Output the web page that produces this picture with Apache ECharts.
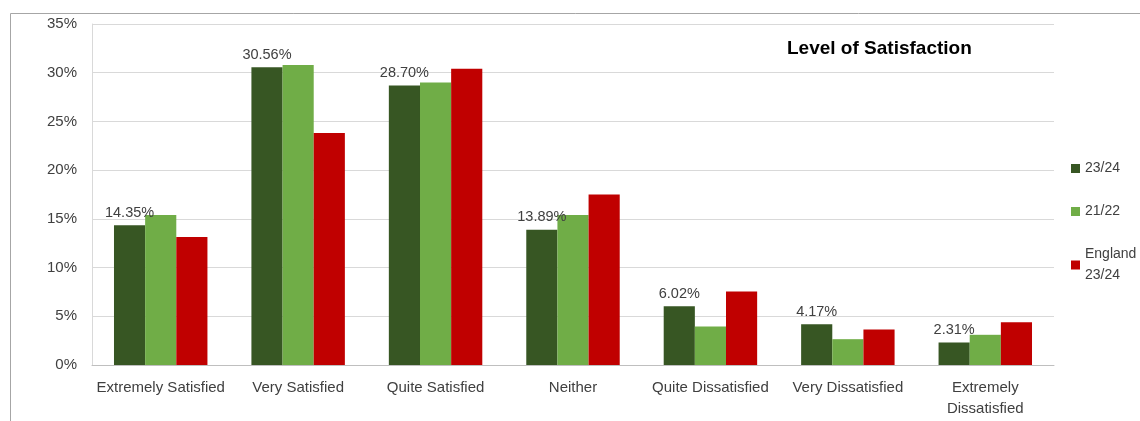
<!DOCTYPE html>
<html>
<head>
<meta charset="utf-8">
<script src="https://cdn.jsdelivr.net/npm/echarts@6/dist/echarts.min.js"></script>
<style>
  html, body { margin: 0; padding: 0; background: #fff; }
  #chart { width: 1140px; height: 421px; }
</style>
</head>
<body>
<div id="chart"></div>
<script>
// Satisfaction levels, shares in percent
const categories = ['Extremely Satisfied', 'Very Satisfied', 'Quite Satisfied', 'Neither',
  'Quite Dissatisfied', 'Very Dissatisfied', 'Extremely Dissatisfied'];
const seriesNames = ['23/24', '21/22', 'England 23/24'];
const values2324 = [14.35, 30.56, 28.70, 13.89, 6.02, 4.17, 2.31];
const values2122 = [15.4, 30.8, 29.0, 15.4, 3.95, 2.65, 3.1];
const valuesEngland = [13.15, 23.8, 30.4, 17.5, 7.55, 3.65, 4.4];
const yTicks = [0, 5, 10, 15, 20, 25, 30, 35];

const colors = ['#375623', '#70AD47', '#C00000'];
const font = '"Liberation Sans", "DejaVu Sans", sans-serif';
const textColor = '#404040';

const chart = echarts.init(document.getElementById('chart'), null, { renderer: 'canvas' });

function barSeries(name, data, color, withLabel) {
  return {
    name: name,
    type: 'bar',
    data: data,
    barGap: '0%',
    barCategoryGap: '32%',
    itemStyle: { color: color },
    label: withLabel ? {
      show: true,
      position: 'top',
      distance: 5,
      color: textColor,
      fontFamily: font,
      fontSize: 14.5,
      formatter: p => p.value.toFixed(2) + '%'
    } : { show: false },
    emphasis: { disabled: true }
  };
}

chart.setOption({
  animation: false,
  backgroundColor: '#fff',
  title: {
    text: 'Level of Satisfaction',
    left: 782,
    top: 34,
    textStyle: { fontFamily: font, fontSize: 19, fontWeight: 'bold', color: '#000' }
  },
  legend: {
    orient: 'vertical',
    left: 1066,
    top: 153,
    itemWidth: 9,
    itemHeight: 9,
    itemGap: 22,
    icon: 'rect',
    data: seriesNames,
    formatter: n => n.replace(' ', '\n'),
    textStyle: { fontFamily: font, fontSize: 14, color: textColor, lineHeight: 21 }
  },
  graphic: [{
    type: 'rect',
    shape: { x: 10.5, y: 13.5, width: 1200, height: 500 },
    style: { fill: null, stroke: '#a6a6a6', lineWidth: 1 },
    silent: true
  }],
  grid: { left: 92, right: 86, top: 24, bottom: 56, containLabel: false },
  xAxis: {
    type: 'category',
    data: categories,
    axisLine: { lineStyle: { color: '#bfbfbf' } },
    axisTick: { show: false },
    axisLabel: {
      interval: 0,
      margin: 12,
      color: textColor,
      fontFamily: font,
      fontSize: 15,
      lineHeight: 21,
      formatter: v => v === 'Extremely Dissatisfied' ? 'Extremely\nDissatisfied' : v
    }
  },
  yAxis: {
    type: 'value',
    min: yTicks[0],
    max: yTicks[yTicks.length - 1],
    interval: 5,
    axisLine: { show: true, lineStyle: { color: '#d9d9d9' } },
    axisTick: { show: false },
    splitLine: { lineStyle: { color: '#d9d9d9' } },
    axisLabel: {
      margin: 15,
      color: textColor,
      fontFamily: font,
      fontSize: 15,
      formatter: v => v + '%'
    }
  },
  series: [
    barSeries(seriesNames[0], values2324, colors[0], true),
    barSeries(seriesNames[1], values2122, colors[1], false),
    barSeries(seriesNames[2], valuesEngland, colors[2], false)
  ]
});
</script>
</body>
</html>
